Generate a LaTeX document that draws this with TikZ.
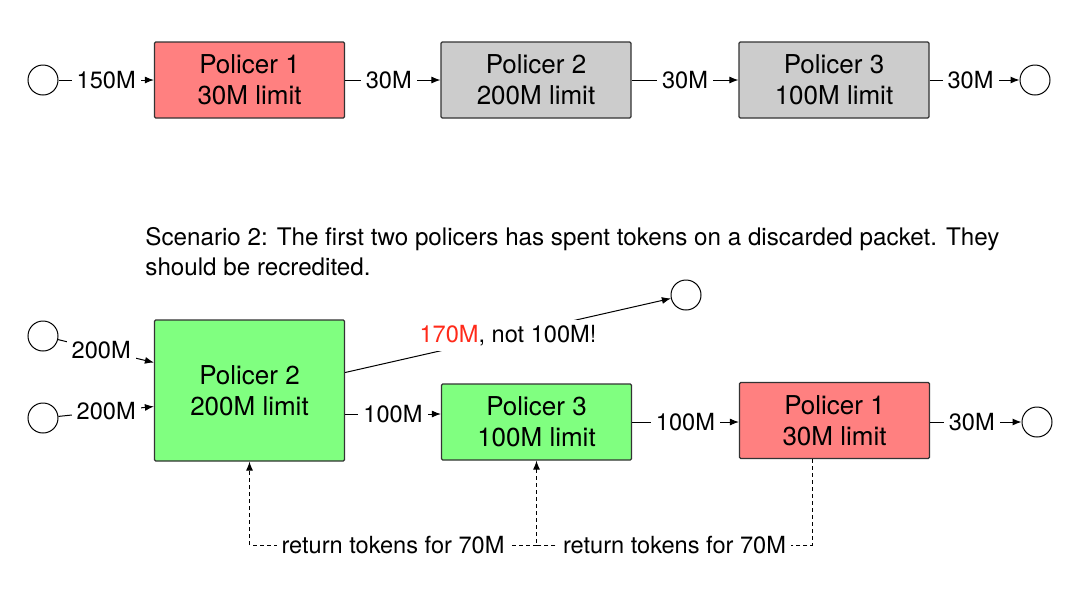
\documentclass[tikz,border=0pt]{standalone}
\usepackage{fontspec}
\setmainfont{TeX Gyre Heros}
\usetikzlibrary{arrows.meta, positioning}
\definecolor{polred}{HTML}{FF8080}
\definecolor{polgray}{HTML}{CCCCCC}
\definecolor{polgreen}{HTML}{80FF80}
\definecolor{warnred}{HTML}{FF2A1A}
\definecolor{edgegray}{HTML}{333333}

\begin{document}
\begin{tikzpicture}[
        x=0.5pt, y=-0.5pt,
        base/.style     ={draw=edgegray, line width=0.6pt, rounded corners=0.6pt,
                          align=center, font=\fontsize{13}{15.5}\selectfont,
                          minimum width=95pt, minimum height=38pt, inner sep=0pt},
        redbox/.style   ={base, fill=polred},
        graybox/.style  ={base, fill=polgray},
        greenbox/.style ={base, fill=polgreen},
        endpt/.style    ={circle, draw=black, line width=0.5pt, minimum size=15pt, inner sep=0pt},
        lbl/.style      ={fill=white, font=\fontsize{11.8}{13}\selectfont, inner sep=2.5pt},
        arrow/.style    ={-{Latex[length=4.5pt,width=3.5pt]}, line width=0.5pt, draw=black},
        dasharrow/.style={arrow, dash pattern=on 2pt off 1.5pt}
    ]

    \fill[white] (0,0) rectangle (1080,596);
    \useasboundingbox (0,0) rectangle (1080,596);

    % --- scenario 1 ---
    \node[endpt] (src) at (43,80) {};
    \node[redbox]  (pa) at (249.5,80) {Policer 1\\30M limit};
    \node[graybox] (pb) at (536,80)   {Policer 2\\200M limit};
    \node[graybox] (pc) at (834,80)   {Policer 3\\100M limit};
    \node[endpt] (dst) at (1035,80) {};

    \draw[arrow] (src) -- node[lbl]{150M} (pa);
    \draw[arrow] (pa)  -- node[lbl, xshift=-2pt]{30M} (pb);
    \draw[arrow] (pb)  -- node[lbl]{30M} (pc);
    \draw[arrow] (pc)  -- node[lbl, xshift=-2pt]{30M} (dst);

    % --- scenario 2 ---
    \node[anchor=north west, align=left, font=\fontsize{12.1}{15}\selectfont, inner sep=0pt]
        (scen) at (145,227) {Scenario 2: The first two policers has spent tokens on a discarded packet. They\\should be recredited.};

    \node[endpt] (in1) at (43,336) {};
    \node[endpt] (in2) at (43,418) {};
    \node[greenbox, minimum height=70.5pt] (p2) at (249.5,390.5) {Policer 2\\200M limit};
    \node[greenbox] (p3) at (536.5,422) {Policer 3\\100M limit};
    \node[redbox]   (p1) at (834.5,420.5) {Policer 1\\30M limit};
    \node[endpt] (drop) at (686,295) {};
    \node[endpt] (out)  at (1037,422) {};

    \coordinate (p3in) at ([yshift=4pt]p3.west);
    \coordinate (tok)  at (p3.south |- 0,545);

    \draw[arrow] (in1) -- node[lbl, pos=0.45]{200M} ([yshift=14pt]p2.west);
    \draw[arrow] (in2) -- node[lbl, pos=0.5]{200M} ([yshift=-8pt]p2.west);
    \draw[arrow] ([yshift=9pt]p2.east) -- node[lbl, pos=0.5]{{\color{warnred}170M}, not 100M!} (drop);
    \draw[arrow] (p2.east |- p3in) -- node[lbl]{100M} (p3in);
    \draw[arrow] (p3.east) -- node[lbl]{100M} (p3.east -| p1.west);
    \draw[arrow] (p1.east |- out) -- node[lbl, xshift=-2pt]{30M} (out);

    \draw[dasharrow] ([xshift=-11pt]p1.south) |- node[lbl, pos=0.75]{return tokens for 70M} (tok) -- (p3.south);
    \draw[dasharrow] (tok) -| node[lbl, pos=0.25]{return tokens for 70M} (p2.south);

\end{tikzpicture}
\end{document}
